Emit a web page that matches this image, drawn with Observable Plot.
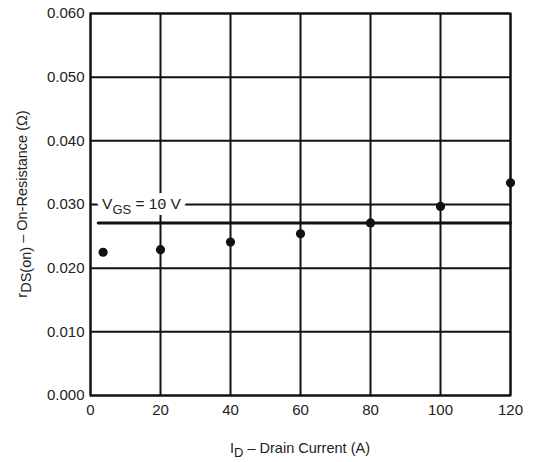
<!DOCTYPE html>
<html>
<head>
<meta charset="utf-8">
<script src="https://cdn.jsdelivr.net/npm/d3@7"></script>
<script src="https://cdn.jsdelivr.net/npm/@observablehq/plot@0.6"></script>
<style>
  html, body { margin: 0; padding: 0; background: #fff; }
  #chart svg { display: block; }
</style>
</head>
<body>
<div id="chart"></div>
<script>
// Data
const drainCurrent = [3.6, 20, 40, 60, 80, 100, 120];           // A
const onResistance = [0.0225, 0.0229, 0.0241, 0.0254, 0.0271, 0.0297, 0.0334]; // Ω
const xTicks = [0, 20, 40, 60, 80, 100, 120];
const yTicks = [0, 0.01, 0.02, 0.03, 0.04, 0.05, 0.06];
const vgsLineX = [2.2, 120];
const vgsLevel = 0.0271;
const vgsLabelX = [3.3];
const vgsLabelY = [0.030];

const points = drainCurrent.map((x, i) => ({x, y: onResistance[i]}));
const vgsLine = vgsLineX.map(x => ({x, y: vgsLevel}));
const vgsLabel = vgsLabelX.map((x, i) => ({x, y: vgsLabelY[i]}));

const FONT = "'Liberation Sans', Arial, Helvetica, sans-serif";
const INK = "#111";

const labelOpts = {x: "x", y: "y", text: () => "VGS = 10 V", textAnchor: "start", lineAnchor: "middle", fontSize: 15.5};

const chart = Plot.plot({
  width: 533,
  height: 462,
  marginLeft: 90,
  marginRight: 23,
  marginTop: 13,
  marginBottom: 67,
  style: {fontFamily: FONT, fontSize: "15px", color: "#222", background: "#fff"},
  x: {domain: [0, 120], label: null},
  y: {domain: [0, 0.06], label: null},
  marks: [
    Plot.gridX(xTicks, {stroke: INK, strokeOpacity: 1, strokeWidth: 2}),
    Plot.gridY(yTicks, {stroke: INK, strokeOpacity: 1, strokeWidth: 2}),
    Plot.frame({stroke: INK, strokeWidth: 2}),
    Plot.axisX(xTicks, {tickSize: 0, tickPadding: 9, fontSize: 15, fill: "#222"}),
    Plot.axisY(yTicks, {tickSize: 0, tickPadding: 6, fontSize: 15, fill: "#222", tickFormat: d3.format(".3f")}),
    Plot.line(vgsLine, {x: "x", y: "y", stroke: INK, strokeWidth: 3}),
    Plot.text(vgsLabel, {...labelOpts, fill: "white", stroke: "white", strokeWidth: 12, strokeLinejoin: "round", className: "vgs-halo"}),
    Plot.text(vgsLabel, {...labelOpts, fill: "#222", className: "vgs-label"}),
    Plot.dot(points, {x: "x", y: "y", r: 4.6, fill: INK, stroke: "none"})
  ]
});

document.getElementById("chart").appendChild(chart);

const svg = d3.select(chart);
// Subscript for the V_GS label
svg.selectAll(".vgs-halo text, .vgs-label text").each(function() {
  const t = d3.select(this);
  t.text(null);
  t.append("tspan").text("V");
  t.append("tspan").attr("font-size", 13).attr("dy", 5).text("GS");
  t.append("tspan").attr("dy", -5).text(" = 10 V");
});

// Axis titles
const xs = chart.scale("x"), ys = chart.scale("y");
const xMid = (xs.apply(0) + xs.apply(120)) / 2;
const yMid = (ys.apply(0) + ys.apply(0.06)) / 2;

const xt = svg.append("text")
  .attr("x", xMid).attr("y", 453)
  .attr("text-anchor", "middle")
  .attr("font-family", FONT).attr("font-size", 14.5).attr("fill", "#222");
xt.append("tspan").text("I");
xt.append("tspan").attr("dy", 4).attr("font-size", 13).text("D");
xt.append("tspan").attr("dy", -4).text(" \u2013 Drain Current (A)");

const yt = svg.append("text")
  .attr("transform", `translate(27,${yMid}) rotate(-90)`)
  .attr("text-anchor", "middle")
  .attr("font-family", FONT).attr("font-size", 14.5).attr("fill", "#222");
yt.append("tspan").text("r");
yt.append("tspan").attr("dy", 4).text("DS(on)");
yt.append("tspan").attr("dy", -4).text(" \u2013 On-Resistance (\u03A9)");
</script>
</body>
</html>
